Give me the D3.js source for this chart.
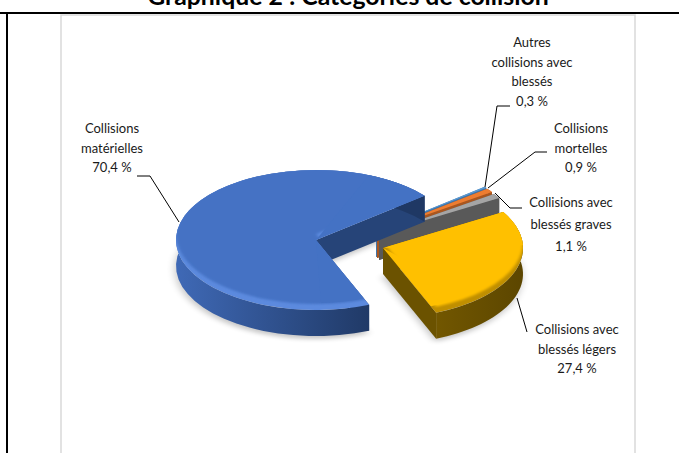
<!DOCTYPE html>
<html><head><meta charset="utf-8">
<script src="https://cdnjs.cloudflare.com/ajax/libs/d3/7.8.5/d3.min.js"></script>
<style>html,body{margin:0;padding:0;background:#fff}svg{display:block}text{font-family:Lato,"Open Sans",sans-serif}</style>
</head><body><svg id="c" width="679" height="453"></svg>
<script>
const titleText = "Graphique 2 : Catégories de collision";
const categories = ["Collisions matérielles","Autres collisions avec blessés","Collisions mortelles","Collisions avec blessés graves","Collisions avec blessés légers"];
const values = [70.4,0.3,0.9,1.1,27.4];
const labelLines = [["Collisions","matérielles","70,4 %"],["Autres","collisions avec","blessés","0,3 %"],["Collisions","mortelles","0,9 %"],["Collisions avec","blessés graves","1,1 %"],["Collisions avec","blessés légers","27,4 %"]];
const topColors = ["#4472C4","#5B9BD5","#ED7D31","#A5A5A5","#FFC000"];
const wallColors = ["#264478","#3f74a8","#a9561f","#595959","#6b5200"];
const sideLeft = ["#3f69b6","#3f74a8","#a9561f","#595959","#7f6100"];
const sideRight = ["#1f3864","#3f74a8","#a9561f","#595959","#5c4600"];
const rimColors = ["#5c8ade",null,null,null,"#c08f00"];

const centers = [[316,240],[376,231],[377,232],[379,234],[383,248]];
const labelPos = [[112,129,19.5],[532,43,19.5],[581,129,19.5],[571,203,22],[577,330,19.5]];
const leaders = [[[137,176],[150,176],[179,222]],[[485,187],[497,106],[510,106]],[[488,188],[535,152],[547,152]],[[495,193],[510,208],[522,208]],[[517,298],[527,332]]];
const R=140, squash=0.5, depth=26;

const svg=d3.select("#c");
const defs=svg.append("defs");
defs.append("filter").attr("id","b1").attr("x","-10%").attr("y","-10%").attr("width","120%").attr("height","120%").append("feGaussianBlur").attr("stdDeviation",1.8);
defs.append("filter").attr("id","b0").attr("x","-10%").attr("y","-10%").attr("width","120%").attr("height","120%").append("feGaussianBlur").attr("stdDeviation",0.6);
defs.append("filter").attr("id","bs").attr("x","-20%").attr("y","-20%").attr("width","140%").attr("height","140%").append("feGaussianBlur").attr("stdDeviation",4);

// frame
svg.append("rect").attr("x",61).attr("y",15).attr("width",574).attr("height",445).attr("fill","#fff").attr("stroke","#d9d9d9").attr("stroke-width",1.5);
svg.append("line").attr("x1",0).attr("x2",679).attr("y1",13).attr("y2",13).attr("stroke","#000").attr("stroke-width",2);
svg.append("line").attr("x1",7).attr("x2",7).attr("y1",13).attr("y2",453).attr("stroke","#000").attr("stroke-width",2);
svg.append("text").attr("x",348).attr("y",5).attr("text-anchor","middle").attr("font-weight",700).attr("font-size",24.8).attr("fill","#000").text(titleText);

const start=157.7*Math.PI/180;
const pie=d3.pie().sort(null).startAngle(start).endAngle(start+2*Math.PI);
const arcs=pie(values);
const arcGen=d3.arc().innerRadius(0).outerRadius(R);
const line=d3.line();
const pt=(c,a,dy=0)=>[c[0]+R*Math.sin(a), c[1]-R*squash*Math.cos(a)+dy];
const samples=(a0,a1)=>d3.range(0,41).map(i=>a0+(a1-a0)*i/40);

const chart=svg.append("g");
const faceT=c=>`translate(${c[0]},${c[1]}) scale(1,${squash})`;

// soft shadow under the pie
arcs.forEach((d,i)=>{ if(values[i]<10) return;
  chart.append("path").attr("d",arcGen(d)).attr("transform",`translate(${centers[i][0]-1},${centers[i][1]+depth+3}) scale(1,${squash})`)
   .attr("fill","#000").attr("opacity",0.22).attr("filter","url(#bs)");
});

// back to front: thin slices, then large ones
const order=[1,2,3,4,0];
order.forEach(i=>{
  const d=arcs[i], c=centers[i], g=chart.append("g");
  const gid="side"+i;
  const lg=defs.append("linearGradient").attr("id",gid).attr("gradientUnits","userSpaceOnUse")
    .attr("x1",c[0]-(i==0?R:0)).attr("x2",c[0]+(i==0?60:R)).attr("y1",0).attr("y2",0);
  lg.append("stop").attr("offset",0).attr("stop-color",sideLeft[i]);
  lg.append("stop").attr("offset",1).attr("stop-color",sideRight[i]);
  // cut walls
  [d.startAngle,d.endAngle].forEach(a=>{
    const o=pt(c,a);
    g.append("path").attr("d",line([c,o,[o[0],o[1]+depth],[c[0],c[1]+depth]])+"Z").attr("fill",wallColors[i]);
  });
  // outer wall
  const as=samples(d.startAngle,d.endAngle);
  const wall=as.map(a=>pt(c,a)).concat(as.slice().reverse().map(a=>pt(c,a,depth)));
  g.append("path").attr("d",line(wall)+"Z").attr("fill",`url(#${gid})`);
  // top face
  const path=arcGen(d);
  g.append("path").attr("d",path).attr("transform",faceT(c)).attr("fill",rimColors[i]||topColors[i]).attr("filter",rimColors[i]?"url(#b0)":null);
  if(rimColors[i]){
    const cid="clip"+i;
    defs.append("clipPath").attr("id",cid).append("path").attr("d",path).attr("transform",faceT(c));
    const clipped=g.append("g").attr("clip-path",`url(#${cid})`);
    clipped.append("path").attr("d",path)
      .attr("transform",`translate(${c[0]},${c[1]-6}) scale(1,${squash})`).attr("fill",topColors[i]).attr("filter","url(#b1)");
    // keep the straight cut edges free of the rim tint
    const upper = i===0 ? {startAngle:d.endAngle-0.5,endAngle:d.endAngle} : {startAngle:d.startAngle,endAngle:d.startAngle+0.5};
    const lower = i===0 ? {startAngle:d.startAngle,endAngle:d.startAngle+0.35} : {startAngle:d.endAngle-0.35,endAngle:d.endAngle};
    [[upper,1.02],[lower,0.9]].forEach(([p,r])=>{
      clipped.append("path").attr("d",d3.arc().innerRadius(0).outerRadius(R*r)(p)).attr("transform",faceT(c)).attr("fill",topColors[i]);
    });
  }
});

// leaders
leaders.forEach(l=>{ svg.append("path").attr("d",line(l)).attr("fill","none").attr("stroke","#000").attr("stroke-width",1); });
// labels
labelLines.forEach((lines,i)=>{
  const [x,y,h]=labelPos[i];
  const t=svg.append("text").attr("text-anchor","middle").attr("font-size",13).attr("fill","#1a1a1a");
  lines.forEach((s,j)=>t.append("tspan").attr("x",x).attr("y",y+4+j*h).text(s));
});
</script></body></html>
